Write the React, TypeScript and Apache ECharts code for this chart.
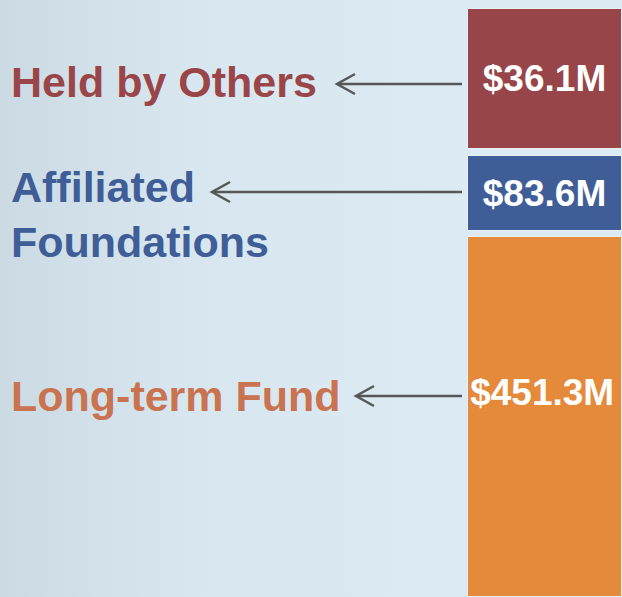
import React, { useEffect, useRef } from "react";
import * as echarts from "echarts";

// Segment names (left captions), values ($M) and colours, top to bottom
const segmentNames = ["Held by Others", "Affiliated\nFoundations", "Long-term Fund"];
const segmentValues = [36.1, 83.6, 451.3];
const barColors = ["#974548", "#3F5E98", "#E5893B"];
const captionColors = ["#9A4649", "#3F5E98", "#C97351"];

// Layout (not data): pixel band of each segment in the picture
const bandTops = [8, 155, 236];
const bandHeights = [141, 76, 366];
const labelOffsets = [null, null, 156];
const captionCenters = [82, 214, 396];
const arrowYs = [84, 192, 396];
const arrowTips = [337, 212, 356];

export default function App() {
  const ref = useRef<HTMLDivElement>(null);
  useEffect(() => {
    if (!ref.current) return;
    const chart = echarts.init(ref.current, null, { renderer: "svg" });
    const font = "'Liberation Sans', Arial, Helvetica, sans-serif";
    const grids = segmentValues.map((_, i) => ({
      left: 467,
      right: -3,
      top: bandTops[i],
      height: bandHeights[i],
      containLabel: false,
    }));
    const xAxes = segmentValues.map((_, i) => ({
      type: "category",
      gridIndex: i,
      data: [segmentNames[i]],
      show: false,
    }));
    const yAxes = segmentValues.map((v, i) => ({
      type: "value",
      gridIndex: i,
      min: 0,
      max: v,
      show: false,
    }));
    const series = segmentValues.map((v, i) => ({
      type: "bar",
      xAxisIndex: i,
      yAxisIndex: i,
      data: [v],
      barWidth: "100%",
      itemStyle: { color: barColors[i], borderColor: "#E9F0F3", borderWidth: 1 },
      label: {
        show: true,
        position: labelOffsets[i] === null ? "inside" : ["48.5%", labelOffsets[i]],
        align: "center",
        verticalAlign: "middle",
        formatter: (p: any) => "$" + p.value.toFixed(1) + "M",
        color: "#ffffff",
        fontSize: 37,
        fontWeight: "bold",
        fontFamily: font,
      },
      silent: true,
    }));
    const graphics: any[] = [];
    segmentNames.forEach((name, i) => {
      graphics.push({
        type: "text",
        x: 11,
        y: captionCenters[i],
        style: {
          text: name,
          fill: captionColors[i],
          fontSize: 43,
          fontWeight: "bold",
          fontFamily: font,
          lineHeight: 55,
          verticalAlign: "middle",
          align: "left",
        },
        silent: true,
      });
      const y = arrowYs[i];
      const tip = arrowTips[i];
      graphics.push({
        type: "line",
        shape: { x1: 462, y1: y, x2: tip + 1, y2: y },
        style: { stroke: "#575757", lineWidth: 2.5 },
        silent: true,
      });
      graphics.push({
        type: "polyline",
        shape: { points: [[tip + 18, y - 10], [tip, y], [tip + 18, y + 10]] },
        style: { stroke: "#575757", lineWidth: 2.5, fill: "none" },
        silent: true,
      });
    });
    chart.setOption({
      animation: false,
      backgroundColor: new echarts.graphic.LinearGradient(0, 0, 1, 0, [
        { offset: 0, color: "#CCDBE3" },
        { offset: 0.3, color: "#D8E7EF" },
        { offset: 0.7, color: "#DCEBF3" },
        { offset: 1, color: "#DCEBF3" },
      ]),
      grid: grids,
      xAxis: xAxes,
      yAxis: yAxes,
      series,
      graphic: graphics,
    } as any);
    return () => chart.dispose();
  }, []);
  return (
    <div
      ref={ref}
      style={{ position: "fixed", left: 0, top: 0, width: 622, height: 597 }}
    />
  );
}
